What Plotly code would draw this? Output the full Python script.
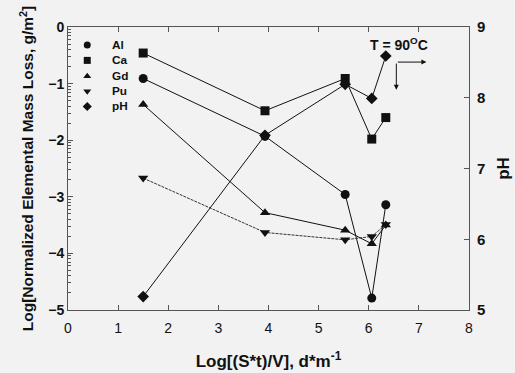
import numpy as np
import plotly.graph_objects as go

x_vals = [1.5, 3.93, 5.53, 6.06, 6.34]
al = [-0.91, -1.93, -2.96, -4.79, -3.14]
ca = [-0.46, -1.48, -0.91, -1.98, -1.60]
gd = [-1.37, -3.28, -3.59, -3.83, -3.50]
pu = [-2.67, -3.63, -3.76, -3.70, -3.49]
ph = [5.19, 7.47, 8.19, 7.99, 8.59]

x_ticks = [0, 1, 2, 3, 4, 5, 6, 7, 8]
y_ticks = [-5, -4, -3, -2, -1, 0]
ph_ticks = [5, 6, 7, 8, 9]

FONT = "Liberation Sans, Arial, sans-serif"
BLACK = "#111111"
AX = "#555555"
BG = "#f2f2f2"

fig = go.Figure()

series = [
    ("Al", al, "circle", "y", dict(color=BLACK, width=1)),
    ("Ca", ca, "square", "y", dict(color=BLACK, width=1)),
    ("Gd", gd, "triangle-up", "y", dict(color=BLACK, width=1)),
    ("Pu", pu, "triangle-down", "y", dict(color="#333333", width=1, dash="3px,1px")),
    ("pH", ph, "diamond", "y2", dict(color=BLACK, width=1)),
]
for name, vals, sym, ax, line in series:
    fig.add_trace(go.Scatter(x=x_vals, y=vals, mode="lines+markers", name=name,
                             yaxis=ax, line=line, showlegend=False,
                             marker=dict(symbol=sym, size=9, color=BLACK)))

# custom legend (markers on a hidden 0..1 overlay axis, labels as one annotation)
leg_marker_y = [0.936, 0.882, 0.826, 0.773, 0.719]
fig.add_trace(go.Scatter(x=[0.048] * 5, y=leg_marker_y, mode="markers",
                         xaxis="x3", yaxis="y3", showlegend=False, hoverinfo="skip",
                         marker=dict(symbol=[s[2] for s in series], size=7, color=BLACK)))
fig.add_annotation(x=0.104, y=0.967, xref="paper", yref="paper",
                   text="<br>".join(s[0] for s in series),
                   showarrow=False, xanchor="left", yanchor="top", align="left",
                   font=dict(size=11.8, family=FONT, weight="bold", color=BLACK))

minor_vals = []
for d in range(-5, 0):
    for k in range(2, 10):
        minor_vals.append(d + np.log10(k))

fig.update_layout(
    width=515, height=373,
    margin=dict(l=68, r=46, t=27, b=63),
    paper_bgcolor=BG, plot_bgcolor=BG,
    font=dict(family=FONT, color=BLACK),
    showlegend=False,
    xaxis=dict(range=[0, 8], tickvals=x_ticks, ticks="inside", ticklen=5,
               tickcolor=AX, showline=True, linecolor=AX, linewidth=1,
               mirror="ticks", showgrid=False, zeroline=False, automargin=False,
               ticklabelstandoff=5,
               tickfont=dict(size=14, family=FONT),
               title=dict(text="Log[(S*t)/V], d*m<sup>-1</sup>",
                          font=dict(size=17, family=FONT, weight="bold"),
                          standoff=20)),
    yaxis=dict(range=[-5, 0], tickvals=y_ticks, ticks="inside", ticklen=5,
               tickcolor=AX, showline=True, linecolor=AX, linewidth=1,
               showgrid=False, zeroline=False, automargin=False,
               minor=dict(tickvals=minor_vals, ticks="inside", ticklen=3,
                          tickcolor=AX, showgrid=False),
               tickfont=dict(size=14, family=FONT, weight="bold"),
               title=dict(text="Log[Normalized Elemental Mass Loss, g/m<sup>2</sup>]",
                          font=dict(size=15.5, family=FONT, weight="bold"),
                          standoff=10)),
    yaxis2=dict(range=[5, 9], tickvals=ph_ticks, ticks="inside", ticklen=5,
                tickcolor=AX, overlaying="y", side="right", showline=True,
                linecolor=AX, linewidth=1, showgrid=False, zeroline=False,
                automargin=False, ticklabelstandoff=4,
                tickfont=dict(size=15, family=FONT, weight="bold"),
                title=dict(text="pH", font=dict(size=17, family=FONT, weight="bold"),
                           standoff=12)),
    xaxis3=dict(range=[0, 1], overlaying="x", visible=False, anchor="y3"),
    yaxis3=dict(range=[0, 1], overlaying="y", visible=False, anchor="x3"),
)

fig.add_annotation(x=6.6, y=-0.3, xref="x", yref="y", showarrow=False,
                   text="T = 90<sup>O</sup>C",
                   font=dict(size=14, family=FONT, weight="bold", color=BLACK))
fig.add_annotation(x=7.15, y=-0.62, ax=6.55, ay=-0.62, xref="x", yref="y",
                   axref="x", ayref="y", showarrow=True, text="",
                   arrowhead=2, arrowsize=1, arrowwidth=1, arrowcolor=BLACK)
fig.add_annotation(x=6.55, y=-1.11, ax=6.55, ay=-0.62, xref="x", yref="y",
                   axref="x", ayref="y", showarrow=True, text="",
                   arrowhead=2, arrowsize=1, arrowwidth=1, arrowcolor=BLACK)

fig.write_html("out.html", config={"displayModeBar": False},
               post_script="document.body.style.margin='0';"
                           "document.body.style.background='" + BG + "';")
